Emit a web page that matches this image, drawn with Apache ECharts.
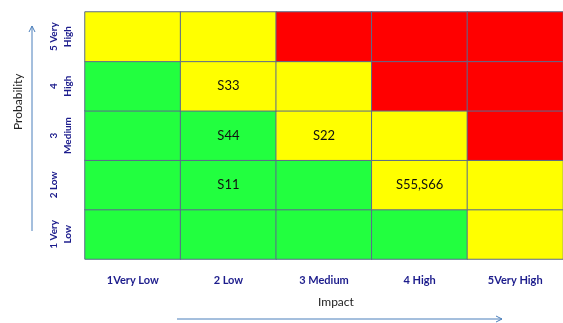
<!DOCTYPE html>
<html lang="en">
<head>
    <meta charset="UTF-8">
    <title>Risk Matrix</title>
    <script src="https://cdn.jsdelivr.net/npm/echarts@6/dist/echarts.min.js"></script>
    <style>
        body { margin: 0; background: #fff; }
        #chart { width: 563px; height: 323px; }
    </style>
</head>
<body>
    <div id="chart"></div>
    <script>
        // axis categories
        const impactLabels = ['1Very Low', '2 Low', '3 Medium', '4 High', '5Very High'];
        const probLabels = ['1 Very\nLow', '2 Low', '3\nMedium', '4\nHigh', '5 Very\nHigh'];

        // risk level per cell: 0 green, 1 yellow, 2 red (rows = probability 1..5, cols = impact 1..5)
        const riskLevels = [
            [0, 0, 0, 0, 1],
            [0, 0, 0, 1, 1],
            [0, 0, 1, 1, 2],
            [0, 1, 1, 2, 2],
            [1, 1, 2, 2, 2]
        ];

        // scenario tags: [impact index, probability index, text]
        const scenarios = [
            [1, 1, 'S11'],
            [1, 2, 'S44'],
            [1, 3, 'S33'],
            [2, 2, 'S22'],
            [3, 1, 'S55,S66']
        ];

        const levelColors = ['#22ff3f', '#ffff00', '#ff0000'];

        const tagAt = (x, y) => {
            const s = scenarios.find(t => t[0] === x && t[1] === y);
            return s ? s[2] : '';
        };

        const cells = [];
        riskLevels.forEach((row, y) => {
            row.forEach((lvl, x) => {
                cells.push({ value: [x, y, lvl], tag: tagAt(x, y) });
            });
        });

        const chart = echarts.init(document.getElementById('chart'));
        const option = {
            animation: false,
            grid: { left: 85, top: 12, width: 489, height: 247 },
            xAxis: {
                type: 'category',
                data: impactLabels,
                axisLine: { show: false },
                axisTick: { show: false },
                splitLine: { show: false },
                axisLabel: {
                    margin: 16,
                    fontFamily: 'Lato',
                    fontWeight: 'bold',
                    fontSize: 11,
                    color: '#1c1c8c'
                }
            },
            yAxis: {
                type: 'category',
                data: probLabels,
                axisLine: { show: false },
                axisTick: { show: false },
                splitLine: { show: false },
                axisLabel: {
                    rotate: 90,
                    margin: 38,
                    align: 'center',
                    verticalAlign: 'top',
                    lineHeight: 14,
                    fontFamily: 'Lato',
                    fontWeight: 'bold',
                    fontSize: 10,
                    color: '#1c1c8c'
                }
            },
            visualMap: {
                show: false,
                type: 'piecewise',
                dimension: 2,
                pieces: levelColors.map((c, i) => ({ value: i, color: c }))
            },
            series: [{
                type: 'heatmap',
                data: cells,
                itemStyle: { borderColor: '#5b6b8c', borderWidth: 1 },
                label: {
                    show: true,
                    fontFamily: 'Lato',
                    fontSize: 13,
                    color: '#111',
                    formatter: p => p.data.tag
                },
                emphasis: { disabled: true }
            }],
            graphic: [
                {
                    type: 'text', left: 318, top: 296,
                    style: { text: 'Impact', font: '12px Lato', fill: '#222' }
                },
                {
                    type: 'text', x: 12, y: 130, rotation: Math.PI / 2,
                    style: { text: 'Probability', font: '12px Lato', fill: '#222' }
                },
                {
                    type: 'polyline',
                    shape: { points: [[177, 319], [502, 319]] },
                    style: { stroke: '#4a7ebb', lineWidth: 1 }
                },
                {
                    type: 'polyline',
                    shape: { points: [[496, 316], [502, 319], [496, 322]] },
                    style: { stroke: '#4a7ebb', lineWidth: 1, fill: 'none' }
                },
                {
                    type: 'polyline',
                    shape: { points: [[32, 231], [32, 26]] },
                    style: { stroke: '#4a7ebb', lineWidth: 1 }
                },
                {
                    type: 'polyline',
                    shape: { points: [[29, 32], [32, 26], [35, 32]] },
                    style: { stroke: '#4a7ebb', lineWidth: 1, fill: 'none' }
                }
            ]
        };
        chart.setOption(option);
    </script>
</body>
</html>
